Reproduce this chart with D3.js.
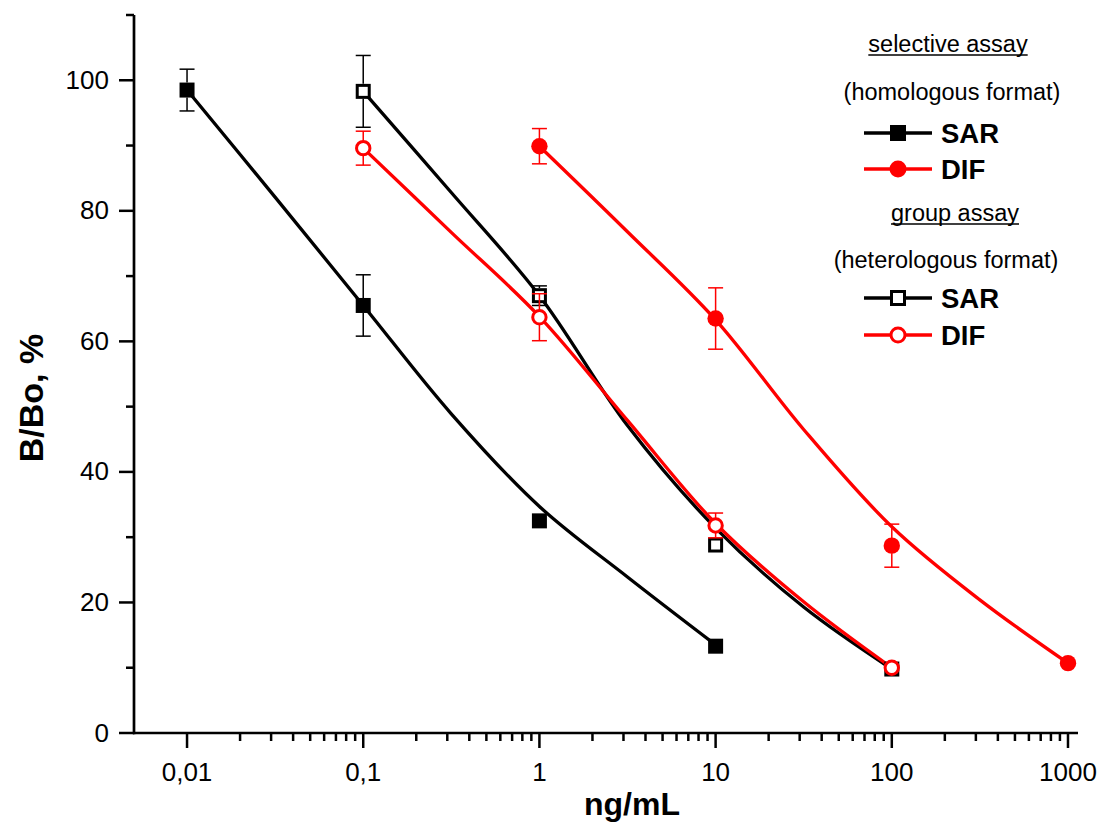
<!DOCTYPE html>
<html><head><meta charset="utf-8">
<script src="https://cdn.jsdelivr.net/npm/d3@7"></script>
<style>body{margin:0;background:#fff}svg{display:block}text{font-family:Arial,"Liberation Sans",sans-serif}</style>
</head><body><svg id="c" width="1104" height="827"></svg>
<script>
// ---- data ----
const concSelSAR = [0.01, 0.1, 1, 10];
const valSelSAR  = [98.5, 65.5, 32.5, 13.3];
const errSelSAR  = [3.2, 4.7, 0, 0];
const concSelDIF = [1, 10, 100, 1000];
const valSelDIF  = [89.9, 63.5, 28.7, 10.7];
const errSelDIF  = [2.7, 4.7, 3.3, 0];
const concGrpSAR = [0.1, 1, 10, 100];
const valGrpSAR  = [98.3, 67.0, 28.8, 9.8];
const errGrpSAR  = [5.5, 1.5, 0, 0];
const concGrpDIF = [0.1, 1, 10, 100];
const valGrpDIF  = [89.6, 63.7, 31.8, 10.0];
const errGrpDIF  = [2.6, 3.6, 1.9, 0];
// fitted curves (at half-decade steps)
const fitSelSAR_x = [0.01, 0.0316, 0.1, 0.316, 1, 3.16, 10];
const fitSelSAR_y = [98.5, 82.1, 65.5, 48.9, 34.7, 23.9, 13.5];
const fitSelDIF_x = [1, 3.16, 10, 31.6, 100, 316, 1000];
const fitSelDIF_y = [89.9, 76.8, 63.3, 46.5, 31.6, 20.4, 10.7];
const fitGrpSAR_x = [0.1, 0.316, 1, 3.16, 10, 31.6, 100];
const fitGrpSAR_y = [98.3, 82.8, 67.0, 47.1, 31.4, 19.3, 9.8];
const fitGrpDIF_x = [0.1, 0.316, 1, 3.16, 10, 31.6, 100];
const fitGrpDIF_y = [89.6, 76.7, 63.8, 47.9, 32.1, 20.1, 10.0];
// axes
const xMajor = [0.01, 0.1, 1, 10, 100, 1000];
const xLabels = ["0,01", "0,1", "1", "10", "100", "1000"];
const yMajor = [0, 20, 40, 60, 80, 100];
const yMinor = [10, 30, 50, 70, 90, 110];
const xTitle = "ng/mL";
const yTitle = "B/Bo, %";

const svg = d3.select("#c");
const x = d3.scaleLog().domain([0.005, 1125]).range([134, 1077]);
const y = d3.scaleLinear().domain([0, 110]).range([733, 15]);

// minor ticks for log axis: 2..9 in each decade 0.01..100
const xMinor = [];
xMajor.slice(0, -1).forEach(d => { for (let k = 2; k <= 9; k++) xMinor.push(d * k); });

// X axis
const gx = svg.append("g");
gx.append("line").attr("x1", 133).attr("x2", 1078).attr("y1", 733).attr("y2", 733)
  .attr("stroke", "#000").attr("stroke-width", 2.7);
gx.selectAll(".xm").data(xMajor).join("line").attr("class", "xm")
  .attr("x1", d => x(d)).attr("x2", d => x(d)).attr("y1", 733).attr("y2", 748)
  .attr("stroke", "#000").attr("stroke-width", 2.5);
gx.selectAll(".xn").data(xMinor).join("line").attr("class", "xn")
  .attr("x1", d => x(d)).attr("x2", d => x(d)).attr("y1", 733).attr("y2", 741)
  .attr("stroke", "#000").attr("stroke-width", 2.5);
gx.selectAll(".xl").data(xMajor).join("text").attr("class", "xl")
  .attr("x", d => x(d)).attr("y", 781).attr("text-anchor", "middle")
  .attr("font-size", 26).text((d, i) => xLabels[i]);

// Y axis
const gy = svg.append("g");
gy.append("line").attr("x1", 134).attr("x2", 134).attr("y1", 15).attr("y2", 734.3)
  .attr("stroke", "#000").attr("stroke-width", 2.7);
gy.selectAll(".ym").data(yMajor).join("line").attr("class", "ym")
  .attr("x1", 119).attr("x2", 134).attr("y1", d => y(d)).attr("y2", d => y(d))
  .attr("stroke", "#000").attr("stroke-width", 2.5);
gy.selectAll(".yn").data(yMinor).join("line").attr("class", "yn")
  .attr("x1", 126).attr("x2", 134).attr("y1", d => y(d)).attr("y2", d => y(d))
  .attr("stroke", "#000").attr("stroke-width", 2.5);
gy.selectAll(".yl").data(yMajor).join("text").attr("class", "yl")
  .attr("x", 109).attr("y", d => y(d) + 8.5).attr("text-anchor", "end")
  .attr("font-size", 26).text(d => d);

// titles
svg.append("text").attr("x", 632).attr("y", 815).attr("text-anchor", "middle")
  .attr("font-size", 32).attr("font-weight", "bold").text(xTitle);
svg.append("text").attr("transform", "translate(43,398) rotate(-90)").attr("text-anchor", "middle")
  .attr("font-size", 34).attr("font-weight", "bold").text(yTitle);

// series
const RED = "#ff0000", BLK = "#000000";
const series = [
  {c: concSelSAR, v: valSelSAR, e: errSelSAR, fx: fitSelSAR_x, fy: fitSelSAR_y, col: BLK, shape: "square", filled: true},
  {c: concSelDIF, v: valSelDIF, e: errSelDIF, fx: fitSelDIF_x, fy: fitSelDIF_y, col: RED, shape: "circle", filled: true},
  {c: concGrpSAR, v: valGrpSAR, e: errGrpSAR, fx: fitGrpSAR_x, fy: fitGrpSAR_y, col: BLK, shape: "square", filled: false},
  {c: concGrpDIF, v: valGrpDIF, e: errGrpDIF, fx: fitGrpDIF_x, fy: fitGrpDIF_y, col: RED, shape: "circle", filled: false}
];
const line = d3.line().x(d => x(d[0])).y(d => y(d[1])).curve(d3.curveCatmullRom.alpha(0.5));

function marker(g, cx, cy, s, big) {
  if (s.shape === "square") {
    const h = big ? 8 : 7.5;
    if (s.filled) {
      g.append("rect").attr("x", cx - h).attr("y", cy - h).attr("width", 2 * h).attr("height", 2 * h).attr("fill", s.col);
    } else {
      g.append("rect").attr("x", cx - h + 1.5).attr("y", cy - h + 1.5).attr("width", 2 * h - 3).attr("height", 2 * h - 3)
        .attr("fill", "#fff").attr("stroke", s.col).attr("stroke-width", 3);
    }
  } else {
    const r = big ? 8.5 : 8.2;
    if (s.filled) g.append("circle").attr("cx", cx).attr("cy", cy).attr("r", r).attr("fill", s.col);
    else g.append("circle").attr("cx", cx).attr("cy", cy).attr("r", r - 1.5).attr("fill", "#fff").attr("stroke", s.col).attr("stroke-width", 3);
  }
}

const gPlot = svg.append("g");
series.forEach(s => {
  gPlot.append("path").datum(s.fx.map((d, i) => [d, s.fy[i]])).attr("d", line)
    .attr("fill", "none").attr("stroke", s.col).attr("stroke-width", 3.3);
});
series.forEach(s => {
  s.c.forEach((d, i) => marker(gPlot, x(d), y(s.v[i]), s, false));
});
// error bars drawn outside the marker, with caps
series.forEach(s => {
  s.c.forEach((d, i) => {
    const e = s.e[i];
    if (!e) return;
    const cx = x(d), cy = y(s.v[i]), t = y(s.v[i] + e), b = y(s.v[i] - e), h = 7.5;
    const g = gPlot.append("g").attr("stroke", s.col).attr("stroke-width", 1.5);
    if (cy - t > h) g.append("line").attr("x1", cx).attr("x2", cx).attr("y1", t).attr("y2", cy - h);
    if (b - cy > h) g.append("line").attr("x1", cx).attr("x2", cx).attr("y1", cy + h).attr("y2", b);
    g.append("line").attr("x1", cx - 7.5).attr("x2", cx + 7.5).attr("y1", t).attr("y2", t);
    g.append("line").attr("x1", cx - 7.5).attr("x2", cx + 7.5).attr("y1", b).attr("y2", b);
  });
});

// legend
const legHead = [
  {t: "selective assay", x: 948, y: 52, u: true},
  {t: "(homologous format)", x: 952, y: 100, u: false},
  {t: "group assay", x: 955, y: 221, u: true},
  {t: "(heterologous format)", x: 946, y: 268, u: false}
];
const gl = svg.append("g");
legHead.forEach(h => {
  const tx = gl.append("text").attr("x", h.x).attr("y", h.y).attr("text-anchor", "middle")
    .attr("font-size", 23.5).text(h.t);
  if (h.u) {
    const w = tx.node().getComputedTextLength();
    gl.append("line").attr("x1", h.x - w / 2).attr("x2", h.x + w / 2).attr("y1", h.y + 3).attr("y2", h.y + 3)
      .attr("stroke", "#000").attr("stroke-width", 1.5);
  }
});
const legNames = ["SAR", "DIF", "SAR", "DIF"];
const legY = [133, 169, 298, 335];
series.forEach((s, i) => {
  const cy = legY[i];
  gl.append("line").attr("x1", 864).attr("x2", 932).attr("y1", cy).attr("y2", cy)
    .attr("stroke", s.col).attr("stroke-width", 3.3);
  marker(gl, 898, cy, s, true);
  gl.append("text").attr("x", 941).attr("y", cy + 9.5).attr("font-size", 27.5).attr("font-weight", "bold")
    .text(legNames[i]);
});
</script></body></html>
